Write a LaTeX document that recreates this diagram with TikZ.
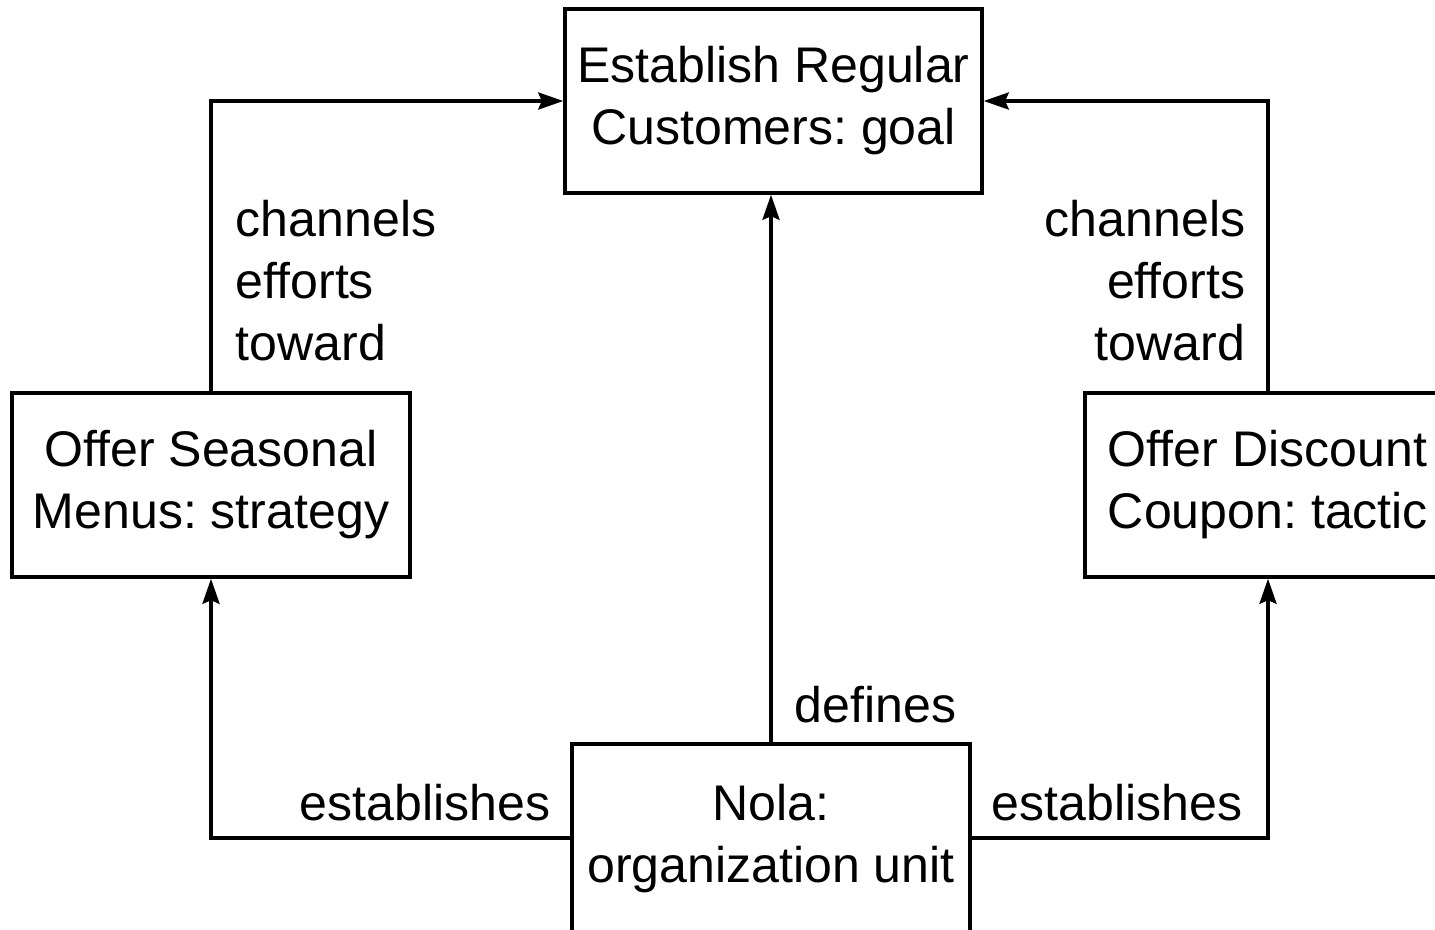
\documentclass[tikz,border=0pt]{standalone}
\usepackage{fontspec}
\setmainfont{Liberation Sans}
\usetikzlibrary{arrows.meta}
\frenchspacing

\begin{document}
\begin{tikzpicture}
[x=0.02cm,y=-0.02cm,line width=2pt,
every node/.style={font=\fontsize{28.5}{35.3}\selectfont,inner sep=0pt},
box/.style={draw,minimum height=3.68cm,align=center},
lbl/.style={align=left},
arr/.style={-{Stealth[length=0.5cm,width=0.34cm,inset=0.07cm]}}]
\useasboundingbox (0,0) rectangle (1435,929);
\clip (0,0) rectangle (1435,929);
\node[box,minimum width=8.34cm] (goal) at (773.5,101) {Establish Regular\\Customers: goal};
\node[box,minimum width=7.96cm] (strategy) at (211,485) {Offer Seasonal\\Menus: strategy};
\node[box,minimum width=7.32cm,align=left] (tactic) at (1268,485) {Offer Discount\\Coupon: tactic};
\node[box,minimum width=7.96cm,minimum height=0pt,anchor=north,inner ysep=0.8cm,text depth=3cm] (nola) at (771,742) {Nola:\\organization unit};
\node[lbl,anchor=west] (chl) at (234,281) {channels\\efforts\\toward};
\node[align=right,anchor=east] (chr) at (1247,281) {channels\\efforts\\toward};
\node[anchor=base west] (def) at (793,722) {defines};
\node[anchor=base east] (estl) at (552,820) {establishes};
\node[anchor=base west] (estr) at (990,820) {establishes};
\foreach \from/\to in {strategy.north/goal.west,tactic.north/goal.east}
\draw[arr] (\from) |- (\to);
\draw[arr] ([yshift=-1.92cm]nola.north west) -| (strategy.south);
\draw[arr] ([yshift=-1.92cm]nola.north east) -| (tactic.south);
\draw[arr] (nola.north) -- (nola.north |- goal.south);
\end{tikzpicture}
\end{document}
